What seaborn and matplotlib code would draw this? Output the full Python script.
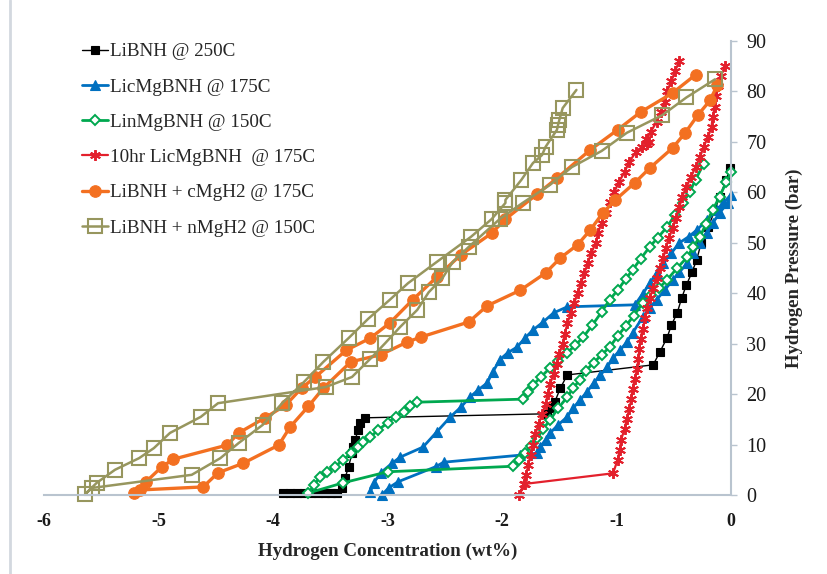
import matplotlib
matplotlib.use("Agg")
import matplotlib.pyplot as plt
from matplotlib.lines import Line2D
import seaborn as sns

# ---- series data: hydrogen concentration (wt%) and pressure (bar) ----
labels = ["LiBNH @ 250C", "LicMgBNH @ 175C", "LinMgBNH @ 150C",
          "10hr LicMgBNH  @ 175C", "LiBNH + cMgH2 @ 175C", "LiBNH + nMgH2 @ 150C"]

libnh_x = [-3.91, -3.85, -3.79, -3.73, -3.67, -3.61, -3.55, -3.49, -3.44, -3.40,
           -3.37, -3.34, -3.31, -3.30, -3.28, -3.26, -3.24, -3.20, -1.61, -1.58,
           -1.54, -1.49, -1.43, -0.68, -0.62, -0.56, -0.52, -0.47, -0.43, -0.39,
           -0.34, -0.30, -0.26, -0.20, -0.14, -0.10, -0.04, -0.01]
libnh_y = [0.3, 0.3, 0.3, 0.3, 0.3, 0.3, 0.3, 0.3, 0.4, 1.4,
           3.4, 5.6, 8.3, 9.5, 10.9, 12.9, 14.3, 15.3, 16.1, 17.2,
           18.4, 21.2, 23.8, 25.8, 28.4, 31.1, 33.7, 36.1, 39.1, 41.6,
           44.2, 46.6, 50.0, 53.1, 56.5, 59.1, 62.5, 64.8]

licmg_x = [-3.15, -3.12, -3.06, -2.96, -2.89, -2.69, -2.57, -2.45, -2.36, -2.28,
           -2.21, -2.13, -2.08, -2.02, -1.95, -1.87, -1.80, -1.73, -1.64, -1.55,
           -1.43, -0.84, -0.77, -0.71, -0.65, -0.59, -0.52, -0.45, -0.37, -0.30,
           -0.21, -0.12, -0.07, 0.0,
           -0.03, -0.10, -0.16, -0.21, -0.27, -0.33, -0.38, -0.45, -0.51, -0.58,
           -0.65, -0.71, -0.77, -0.86, -0.91, -0.97, -1.03, -1.08, -1.14, -1.20,
           -1.26, -1.32, -1.38, -1.43, -1.51, -1.58, -1.62, -1.67, -1.69, -1.84,
           -2.51, -2.58, -2.91, -2.99, -3.05]
licmg_y = [0.6, 2.4, 4.4, 6.3, 7.5, 9.5, 12.5, 15.5, 17.4, 19.4,
           20.8, 22.2, 24.4, 26.8, 28.2, 29.3, 31.1, 32.7, 34.3, 36.1,
           37.3, 37.7, 39.9, 42.0, 44.0, 46.0, 48.0, 50.0, 51.2, 52.5,
           54.5, 56.5, 57.9, 59.5,
           57.9, 55.9, 53.9, 51.9, 50.0, 48.0, 46.0, 44.2, 42.6, 40.6,
           38.7, 37.1, 35.3, 32.1, 30.3, 28.7, 27.2, 25.4, 23.8, 22.2,
           20.4, 18.8, 17.2, 15.5, 13.9, 12.3, 10.9, 9.5, 8.3, 7.9,
           6.5, 5.6, 2.6, 1.4, 0.0]

linmg_x = [0.0, -0.04, -0.10, -0.16, -0.22, -0.27, -0.33, -0.38, -0.47, -0.56,
           -0.63, -0.70, -0.77, -0.85, -0.92, -0.99, -1.06, -1.13, -1.20, -1.27,
           -1.32, -1.38, -1.43, -1.51, -1.58, -1.64, -1.69, -1.75, -1.80, -1.85,
           -1.90, -3.00, -3.39, -3.69,
           -3.64, -3.59, -3.53, -3.46, -3.39, -3.32, -3.26, -3.21, -3.15, -3.08,
           -3.00, -2.93, -2.86, -2.80, -2.74, -1.82, -1.77, -1.73, -1.66, -1.58,
           -1.51, -1.43, -1.36, -1.29, -1.21, -1.13, -1.06, -0.99, -0.92, -0.86,
           -0.79, -0.71, -0.64, -0.56, -0.49, -0.42, -0.36, -0.31, -0.24]
linmg_y = [64.0, 62.1, 59.1, 56.5, 53.7, 51.2, 49.2, 47.2, 45.0, 42.6,
           41.0, 39.7, 38.1, 35.5, 33.5, 31.5, 29.3, 27.8, 26.2, 24.6,
           22.8, 21.2, 19.4, 17.2, 14.9, 13.1, 11.3, 9.7, 8.3, 6.9,
           5.7, 4.6, 2.4, 0.4,
           2.0, 3.6, 4.6, 5.6, 6.9, 8.3, 9.5, 10.5, 11.5, 12.9,
           14.3, 15.5, 16.5, 17.6, 18.4, 19.0, 20.4, 21.8, 23.4, 25.2,
           26.6, 28.2, 29.7, 31.3, 33.7, 36.3, 38.7, 40.6, 42.8, 44.6,
           46.8, 49.2, 51.0, 53.1, 55.5, 57.9, 60.1, 62.5, 65.6]

hr10_x = [-0.05, -0.09, -0.11, -0.13, -0.14, -0.16, -0.17, -0.20, -0.24, -0.27,
          -0.31, -0.35, -0.39, -0.43, -0.45, -0.48, -0.51, -0.54, -0.57, -0.59,
          -0.62, -0.65, -0.68, -0.71, -0.73, -0.75, -0.77, -0.79, -0.80, -0.81,
          -0.82, -0.84, -0.86, -0.87, -0.89, -0.91, -0.93, -0.96, -0.97, -0.99,
          -1.03, -1.80, -1.85,
          -1.81, -1.79, -1.77, -1.75, -1.73, -1.71, -1.68, -1.65, -1.62, -1.60,
          -1.58, -1.55, -1.52, -1.50, -1.47, -1.45, -1.43, -1.40, -1.37, -1.34,
          -1.31, -1.28, -1.25, -1.22, -1.18, -1.16, -1.13, -1.09, -1.06, -1.02,
          -0.98, -0.93, -0.89, -0.83, -0.78, -0.73, -0.72, -0.74, -0.70, -0.65,
          -0.61, -0.58, -0.56, -0.52, -0.49, -0.45]
hr10_y = [85.0, 83.0, 81.0, 79.0, 77.0, 75.0, 73.0, 71.0, 69.0, 67.0,
          65.0, 63.0, 61.0, 59.0, 57.0, 55.0, 53.0, 51.0, 49.0, 47.0,
          45.0, 43.0, 41.0, 39.0, 37.0, 35.0, 33.0, 31.0, 29.0, 27.0,
          25.0, 23.0, 21.0, 19.0, 17.0, 15.0, 13.0, 11.0, 9.0, 7.0,
          4.3, 2.2, 0.0,
          2.2, 4.0, 6.0, 8.0, 10.0, 12.0, 14.0, 16.0, 18.0, 20.0,
          22.0, 24.0, 26.0, 28.0, 30.0, 32.0, 34.0, 36.0, 38.0, 40.0,
          42.0, 44.0, 46.0, 48.0, 50.0, 52.0, 54.0, 56.0, 58.0, 60.0,
          62.0, 64.0, 66.0, 68.0, 69.0, 69.5, 70.0, 70.5, 72.0, 74.0,
          76.0, 78.0, 80.0, 82.0, 84.0, 86.0]

cmgh2_x = [-0.12, -0.18, -0.29, -0.40, -0.51, -0.71, -0.84, -1.01, -1.12, -1.23,
           -1.34, -1.49, -1.62, -1.84, -2.13, -2.29, -2.71, -2.83, -3.06, -3.32,
           -3.56, -3.69, -3.85, -3.95, -4.26, -4.48, -4.61, -5.16, -5.21,
           -5.11, -4.97, -4.87, -4.40, -4.30, -4.07, -3.89, -3.75, -3.63, -3.36,
           -3.15, -2.98, -2.78, -2.57, -2.36, -2.09, -1.97, -1.69, -1.52, -1.23,
           -0.99, -0.79, -0.51, -0.31]
cmgh2_y = [81.3, 78.3, 75.3, 71.8, 68.8, 64.8, 61.9, 58.5, 55.9, 52.5,
           49.6, 47.0, 44.0, 40.6, 37.5, 34.3, 31.3, 30.3, 27.8, 26.4,
           21.2, 17.6, 13.5, 9.9, 6.3, 4.4, 1.6, 1.0, 0.4,
           2.6, 5.6, 7.1, 9.9, 12.3, 15.3, 17.8, 21.2, 23.4, 28.7,
           31.1, 34.1, 38.7, 43.2, 47.6, 51.9, 54.7, 59.7, 62.8, 68.4,
           72.4, 75.9, 79.7, 83.3]

nmgh2_x = [-0.14, -0.39, -0.60, -0.91, -1.13, -1.39, -1.58, -1.82, -2.02, -2.29,
           -2.43, -2.52, -2.64, -2.74, -2.89, -3.02, -3.15, -3.31, -3.54, -4.48,
           -4.63, -4.90, -5.04, -5.17, -5.38, -5.54, -5.64,
           -5.58, -4.71, -4.46, -4.30, -4.09, -3.92, -3.73, -3.56, -3.34, -3.17,
           -2.98, -2.82, -2.57, -2.27, -2.09, -1.97, -1.97, -1.83, -1.73, -1.65,
           -1.62, -1.52, -1.51, -1.50, -1.47, -1.35]
nmgh2_y = [82.4, 78.8, 75.3, 71.8, 68.2, 65.0, 61.5, 57.9, 54.7, 49.2,
           46.2, 43.0, 40.2, 36.7, 33.3, 30.1, 27.0, 23.4, 21.4, 18.2,
           15.5, 12.3, 9.3, 7.3, 5.0, 2.4, 0.2,
           1.4, 4.0, 7.3, 10.3, 13.9, 18.2, 22.4, 26.4, 31.1, 34.9,
           38.7, 42.0, 46.2, 51.2, 54.7, 57.9, 58.5, 62.5, 65.8, 67.4,
           69.0, 72.4, 73.4, 74.3, 76.7, 80.3]

x_ticks = [-6, -5, -4, -3, -2, -1, 0]
y_ticks = [0, 10, 20, 30, 40, 50, 60, 70, 80, 90]

# ---- styling ----
sns.set_theme(style="white")
plt.rcParams["font.family"] = ["Liberation Serif", "DejaVu Serif"]
plt.rcParams["axes.unicode_minus"] = False

axis_col = "#b9c4cf"
styles = [
    dict(color="#000000", marker="s", ms=6.2, mfc="#000000", mec="#000000", mew=0.8, lw=1.0),
    dict(color="#0070C0", marker="^", ms=7.5, mfc="#0070C0", mec="#0070C0", mew=0.8, lw=2.0),
    dict(color="#00A84F", marker="D", ms=5.6, mfc="white", mec="#00A84F", mew=1.4, lw=2.0),
    dict(color="#E3202C", marker=(6, 2, 0), ms=7.8, mfc="#E3202C", mec="#E3202C", mew=1.4, lw=1.6),
    dict(color="#F37021", marker="o", ms=8.3, mfc="#F37021", mec="#F37021", mew=0.8, lw=2.4),
    dict(color="#97965E", marker="s", ms=9.5, mfc="none", mec="#97965E", mew=1.5, lw=1.8),
]
series = [(libnh_x, libnh_y), (licmg_x, licmg_y), (linmg_x, linmg_y),
          (hr10_x, hr10_y), (cmgh2_x, cmgh2_y), (nmgh2_x, nmgh2_y)]

fig = plt.figure(figsize=(8.27, 5.74), dpi=100)
ax = fig.add_axes([44 / 827, 1 - 495 / 574, (731 - 44) / 827, (495 - 41) / 574])

for (xs, ys), st in zip(series, styles):
    sns.lineplot(x=xs, y=ys, ax=ax, sort=False, estimator=None,
                 color=st["color"], marker=st["marker"], markersize=st["ms"],
                 markerfacecolor=st["mfc"], markeredgecolor=st["mec"],
                 markeredgewidth=st["mew"], linewidth=st["lw"], clip_on=False,
                 legend=False)

ax.set_xlim(-6, 0)
ax.set_ylim(0, 90)
ax.set_xticks(x_ticks)
ax.set_xticklabels([str(t) for t in x_ticks], fontweight="bold", fontsize=13)
ax.set_yticks(y_ticks)
ax.set_yticklabels([str(t) for t in y_ticks], fontsize=14.5)

for s in ["top", "left"]:
    ax.spines[s].set_visible(False)
for s in ["right", "bottom"]:
    ax.spines[s].set_color(axis_col)
    ax.spines[s].set_linewidth(1.5)

ax.yaxis.tick_right()
ax.yaxis.set_label_position("right")
ax.tick_params(axis="both", which="major", direction="out", length=4,
               width=1.0, color=axis_col, labelcolor="#1a1a1a")
ax.tick_params(axis="x", pad=9)
ax.tick_params(axis="y", pad=7)

ax.set_xlabel("Hydrogen Concentration (wt%)", fontsize=13.7, fontweight="bold")
ax.set_ylabel("Hydrogen Pressure (bar)", fontsize=13.5, fontweight="bold", rotation=90)
ax.xaxis.set_label_coords(0.5, -0.104)
ax.yaxis.set_label_coords(1.079, 0.5)

handles = [Line2D([], [], color=st["color"], marker=st["marker"], markersize=st["ms"],
                  markerfacecolor=st["mfc"], markeredgecolor=st["mec"],
                  markeredgewidth=st["mew"], linewidth=st["lw"]) for st in styles]
ax.legend(handles, labels, loc="upper left", bbox_to_anchor=(82 / 827, 1 - 43 / 574),
          bbox_transform=fig.transFigure, frameon=False, fontsize=13.8,
          handlelength=1.35, handletextpad=0.1, labelspacing=0.93,
          borderpad=0, borderaxespad=0, numpoints=1)

# light border of the chart area on the left
fig.add_artist(Line2D([9.5 / 827, 9.5 / 827], [0, 1], transform=fig.transFigure,
                      color="#d3d8df", linewidth=2.0))

fig.savefig("out.png", dpi=100, facecolor="white")
